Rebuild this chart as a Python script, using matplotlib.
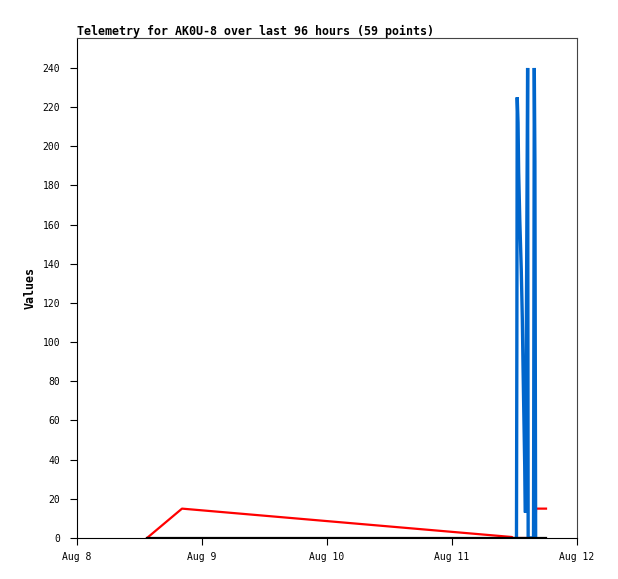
import matplotlib
matplotlib.use('Agg')
import matplotlib.pyplot as plt

# hours since Aug 8 00:00
red_t = [13.44, 20.16, 83.52, 83.7, 88.0, 88.13, 90.05]
red_v = [0, 15, 0.5, 0, 0, 15, 15]

black_t = [13.44, 90.05]
black_v = [0, 0]

blue_t = [84.38, 84.45, 84.52, 84.68, 84.80, 85.02, 85.30, 85.50, 85.64, 85.80,
          85.96, 86.10, 86.52, 86.62, 87.65, 87.80, 87.92, 88.06]
blue_v = [0, 97, 225, 212, 187, 162, 137, 112, 87, 62,
          37, 13, 240, 0, 0, 240, 192, 0]

xticks = [0, 24, 48, 72, 96]
xlabels = ['Aug 8', 'Aug 9', 'Aug 10', 'Aug 11', 'Aug 12']
yticks = list(range(0, 241, 20))

plt.rcParams['font.family'] = ['DejaVu Sans Mono']

fig = plt.figure(figsize=(6.18, 5.79), dpi=100)
ax = fig.add_axes([77/618, 41/579, 500/618, 500/579])

ax.plot(red_t, red_v, color='#ff0000', lw=1.6)
ax.plot(blue_t, blue_v, color='#0066cc', lw=2.4,
        solid_joinstyle='miter', solid_capstyle='butt')
ax.plot(black_t, black_v, color='black', lw=1.6)

ax.set_xlim(0, 96)
ax.set_ylim(0, 255.3)
ax.set_xticks(xticks)
ax.set_xticklabels(xlabels)
ax.set_yticks(yticks)
ax.tick_params(axis='both', direction='out', length=5.2, width=0.8, labelsize=7, color='black')
ax.tick_params(axis='y', pad=7)
ax.tick_params(axis='x', pad=5)

for s in ['left', 'bottom']:
    ax.spines[s].set_color('black')
    ax.spines[s].set_linewidth(0.8)
for s in ['top', 'right']:
    ax.spines[s].set_color('#444444')
    ax.spines[s].set_linewidth(0.8)

ax.set_ylabel('Values', fontsize=8.4, fontweight='bold', labelpad=4)
ax.set_title('Telemetry for AK0U-8 over last 96 hours (59 points)',
             loc='left', fontsize=8.4, fontweight='bold', pad=2)

fig.savefig('out.png', dpi=100)
